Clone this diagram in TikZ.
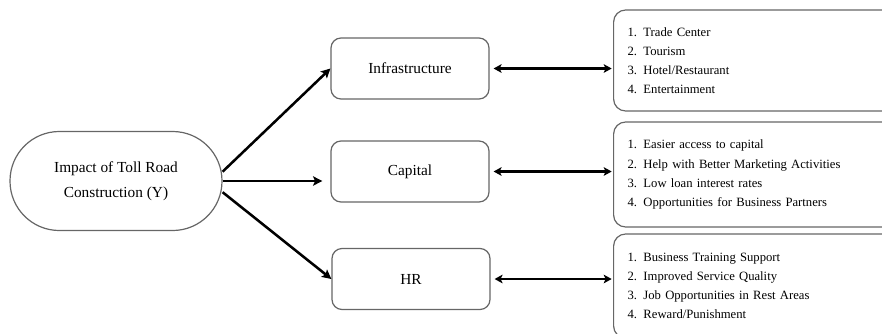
\documentclass[tikz,border=0pt]{standalone}
\usepackage{fontspec}
\setmainfont{Liberation Serif}
\usetikzlibrary{arrows.meta}

\tikzset{
  boxline/.style={draw=black!60, line width=0.9pt},
  mainbox/.style={boxline, rounded corners=37pt, minimum width=159pt, minimum height=74.25pt, align=center, font=\fontsize{11.5}{18.5}\selectfont},
  midbox/.style={boxline, rounded corners=7.5pt, minimum width=118.5pt, minimum height=45.75pt, font=\fontsize{11.5}{14}\selectfont},
  listbox/.style={boxline, rounded corners=9pt, anchor=west, text width=190pt, align=left, inner xsep=10.5pt, font=\fontsize{9.5}{14.3}\selectfont},
  onearrow/.style={line width=1.9pt, -{Stealth[length=7pt,width=7pt,inset=1.5pt]}},
  twoarrow/.style={line width=1.9pt, {Stealth[length=6pt,width=6.5pt,inset=1.5pt]}-{Stealth[length=6pt,width=6.5pt,inset=1.5pt]}}
}

\begin{document}
\begin{tikzpicture}[x=0.75pt,y=0.75pt,yscale=-1,xscale=1]
\useasboundingbox (0,0) rectangle (882,333);
\clip (0,0) rectangle (882,333);

%Shape: Rounded Rect [id:impact]
\node [mainbox] (impact) at (116,181) {Impact of Toll Road\\Construction (Y)};

%Shape: Rounded Rect [id:infra]
\node [midbox] (infra) at (410,68.5) {Infrastructure};
%Shape: Rounded Rect [id:capital]
\node [midbox] (capital) at (410,171.5) {Capital};
%Shape: Rounded Rect [id:hr]
\node [midbox] (hr) at (411,279) {HR};

%Shape: Rounded Rect [id:infralist]
\node [listbox, minimum height=75.75pt] (infralist) at (613,60.5) {1. Trade Center\\2. Tourism\\3. Hotel/Restaurant\\4. Entertainment};
%Shape: Rounded Rect [id:capitallist]
\node [listbox, minimum height=78.75pt] (capitallist) at (613,174.5) {1. Easier access to capital\\2. Help with Better Marketing Activities\\3. Low loan interest rates\\4. Opportunities for Business Partners};
%Shape: Rounded Rect [id:hrlist]
\node [listbox, minimum height=78pt] (hrlist) at (613,286) {1. Business Training Support\\2. Improved Service Quality\\3. Job Opportunities in Rest Areas\\4. Reward/Punishment};

%Straight Lines [id:impact-infra]
\draw [onearrow] (impact.5) -- (infra.west) ;
%Straight Lines [id:impact-capital]
\draw [onearrow, shorten >=6pt] (impact.east) -- (impact.east -| capital.west) ;
%Straight Lines [id:impact-hr]
\draw [onearrow] (impact.-6) -- (hr.west) ;

%Straight Lines [id:infra-infralist]
\draw [twoarrow, shorten <=3pt, shorten >=1pt] (infra.east) -- (infra.east -| infralist.west) ;
%Straight Lines [id:capital-capitallist]
\draw [twoarrow, shorten <=3pt, shorten >=1pt] (capital.east) -- (capital.east -| capitallist.west) ;
%Straight Lines [id:hr-hrlist]
\draw [twoarrow, shorten <=3pt, shorten >=1pt] (hr.east) -- (hr.east -| hrlist.west) ;

\end{tikzpicture}
\end{document}
